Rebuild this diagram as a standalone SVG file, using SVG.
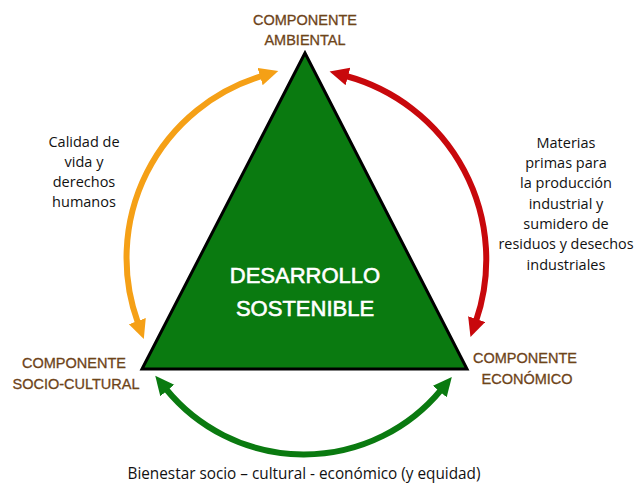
<svg xmlns="http://www.w3.org/2000/svg" width="639" height="483" viewBox="0 0 639 483">
<style>
.comp{font-family:"Liberation Sans",Arial,sans-serif;font-size:14.5px;fill:#6e4419;text-anchor:middle;stroke:#6e4419;stroke-width:0.3}
.lab{font-family:"Open Sans","Liberation Sans",sans-serif;font-size:14.5px;fill:#111;text-anchor:middle}
.big{font-family:"Liberation Sans",Arial,sans-serif;font-size:22px;fill:#fff;text-anchor:middle;stroke:#fff;stroke-width:0.6}
.arc{fill:none;stroke-width:6}
</style>
<defs>
<marker id="mo" markerUnits="userSpaceOnUse" markerWidth="20" markerHeight="20" refX="2" refY="9" orient="auto-start-reverse"><path d="M0,0 L19,9 L0,18 z" fill="#f5a016"/></marker>
<marker id="mr" markerUnits="userSpaceOnUse" markerWidth="20" markerHeight="20" refX="2" refY="9" orient="auto-start-reverse"><path d="M0,0 L19,9 L0,18 z" fill="#c8080c"/></marker>
<marker id="mg" markerUnits="userSpaceOnUse" markerWidth="20" markerHeight="20" refX="2" refY="9" orient="auto-start-reverse"><path d="M0,0 L19,9 L0,18 z" fill="#0a7a10"/></marker>
</defs>
<rect width="639" height="483" fill="#fff"/>
<g id="connectors">
<path class="arc" stroke="#f5a016" d="M138,323 A190,190 0 0 1 262,76" marker-start="url(#mo)" marker-end="url(#mo)"/>
<path class="arc" stroke="#c8080c" d="M346,76 A190,190 0 0 1 476,321" marker-start="url(#mr)" marker-end="url(#mr)"/>
<path class="arc" stroke="#0a7a10" d="M166,389 A178,178 0 0 0 441,390" marker-start="url(#mg)" marker-end="url(#mg)"/>
</g>
<g id="desarrollo">
<polygon points="305,53 142,369 467,369" fill="#0a7a10" stroke="#000" stroke-width="3" stroke-linejoin="miter"/>
<text class="big" x="305" y="283">DESARROLLO</text>
<text class="big" x="305" y="316">SOSTENIBLE</text>
</g>
<g id="ambiental">
<text class="comp" x="305" y="25">COMPONENTE</text>
<text class="comp" x="305" y="45">AMBIENTAL</text>
</g>
<g id="socio">
<text class="comp" x="74" y="368">COMPONENTE</text>
<text class="comp" x="76" y="389">SOCIO-CULTURAL</text>
</g>
<g id="economico">
<text class="comp" x="525" y="363">COMPONENTE</text>
<text class="comp" x="527" y="384">ECONÓMICO</text>
</g>
<g id="label-left">
<text class="lab" x="84" y="147">Calidad de</text>
<text class="lab" x="84" y="167">vida y</text>
<text class="lab" x="84" y="187">derechos</text>
<text class="lab" x="84" y="207">humanos</text>
</g>
<g id="label-right">
<text class="lab" x="566" y="148">Materias</text>
<text class="lab" x="566" y="168">primas para</text>
<text class="lab" x="566" y="188">la producción</text>
<text class="lab" x="566" y="209">industrial y</text>
<text class="lab" x="566" y="229">sumidero de</text>
<text class="lab" x="566" y="249" textLength="135" lengthAdjust="spacingAndGlyphs">residuos y desechos</text>
<text class="lab" x="566" y="270">industriales</text>
</g>
<g id="label-bottom">
<text class="lab" x="304" y="479" style="font-size:16px" textLength="353" lengthAdjust="spacingAndGlyphs">Bienestar socio – cultural - económico (y equidad)</text>
</g>
</svg>
